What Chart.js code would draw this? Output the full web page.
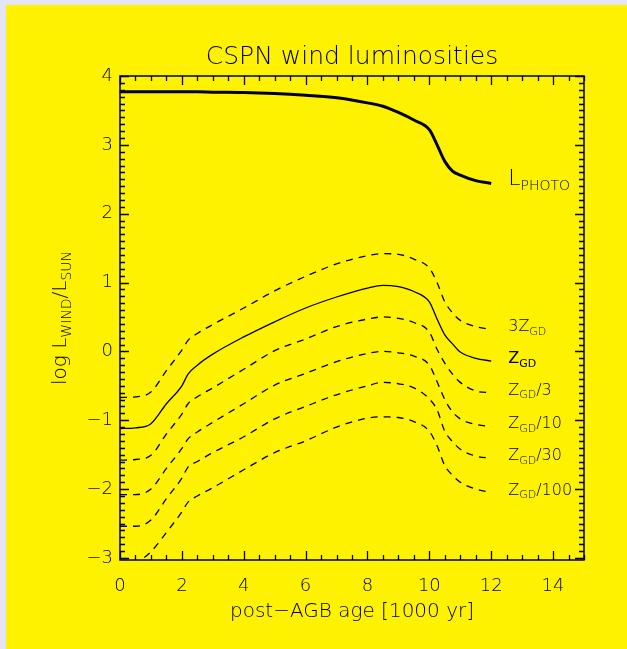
<!DOCTYPE html>
<html lang="en">
<head>
<meta charset="UTF-8">
<title>CSPN wind luminosities</title>
<script src="https://cdn.jsdelivr.net/npm/chart.js"></script>
<style>
  html, body { margin: 0; padding: 0; background: #e4e4f6; }
  canvas { display: block; }
</style>
</head>
<body>
<canvas id="cspn" width="627" height="649"></canvas>
<script>
// post-AGB age in units of 1000 yr
const ages = [0, 0.5, 1, 1.5, 2, 2.2, 2.5, 3, 4, 5, 6, 7, 8, 8.5, 9, 9.5, 10, 10.25, 10.5, 10.75, 11, 11.5, 12];

// log L / Lsun
const lPhoto    = [3.77, 3.77, 3.77, 3.77, 3.77, 3.77, 3.77, 3.765, 3.76, 3.745, 3.72, 3.685, 3.61, 3.56, 3.47, 3.36, 3.22, 3.0, 2.76, 2.62, 2.56, 2.48, 2.44];
const zgd3x     = [-0.67, -0.66, -0.59, -0.28, 0.02, 0.16, 0.26, 0.39, 0.63, 0.88, 1.09, 1.27, 1.39, 1.42, 1.41, 1.34, 1.21, 1.0, 0.72, 0.56, 0.45, 0.36, 0.32];
const zgd       = [-1.12, -1.11, -1.05, -0.76, -0.5, -0.33, -0.2, -0.04, 0.21, 0.43, 0.63, 0.79, 0.92, 0.96, 0.94, 0.87, 0.72, 0.47, 0.24, 0.11, -0.01, -0.10, -0.14];
const zgdDiv3   = [-1.58, -1.57, -1.51, -1.2, -0.91, -0.76, -0.66, -0.53, -0.26, 0.01, 0.18, 0.36, 0.47, 0.5, 0.48, 0.42, 0.28, 0.03, -0.17, -0.33, -0.45, -0.575, -0.6];
const zgdDiv10  = [-2.08, -2.08, -2.0, -1.7, -1.41, -1.27, -1.17, -1.03, -0.76, -0.49, -0.32, -0.15, -0.03, 0.0, -0.02, -0.07, -0.2, -0.44, -0.7, -0.88, -0.98, -1.06, -1.09];
const zgdDiv30  = [-2.54, -2.54, -2.45, -2.14, -1.84, -1.68, -1.6, -1.47, -1.24, -0.98, -0.8, -0.63, -0.5, -0.45, -0.47, -0.53, -0.69, -0.85, -1.16, -1.31, -1.42, -1.52, -1.55];
const zgdDiv100 = [-3.1, -3.07, -2.91, -2.63, -2.33, -2.19, -2.1, -1.98, -1.72, -1.47, -1.3, -1.1, -0.97, -0.95, -0.96, -1.02, -1.16, -1.37, -1.66, -1.8, -1.9, -2.0, -2.05];

// curve labels: [main text, subscript, text after subscript]
const curveLabels = [
  ['L', 'PHOTO', ''],
  ['3Z', 'GD', ''],
  ['Z', 'GD', ''],
  ['Z', 'GD', '/3'],
  ['Z', 'GD', '/10'],
  ['Z', 'GD', '/30'],
  ['Z', 'GD', '/100']
];

const xTicks = [0, 2, 4, 6, 8, 10, 12, 14];
const yTicks = [-3, -2, -1, 0, 1, 2, 3, 4];

const FONT = "'DejaVu Sans', sans-serif";
const THIN = '200 ';
const toPts = (ys) => ys.map((y, i) => ({ x: ages[i], y: y }));

function line(label, ys, width, dashed) {
  return {
    label: label,
    data: toPts(ys),
    borderColor: '#000',
    borderWidth: width,
    borderDash: dashed ? [7, 6] : [],
    pointRadius: 0,
    cubicInterpolationMode: 'monotone',
    fill: false
  };
}

// draws text with a lowered, smaller subscript; returns end x
function subText(ctx, x, y, main, sub, rest, size, subSize, weight) {
  ctx.font = weight + size + 'px ' + FONT;
  ctx.fillText(main, x, y);
  x += ctx.measureText(main).width;
  ctx.font = weight + subSize + 'px ' + FONT;
  ctx.fillText(sub, x, y + size * 0.22);
  x += ctx.measureText(sub).width;
  if (rest) {
    ctx.font = weight + size + 'px ' + FONT;
    ctx.fillText(rest, x, y);
    x += ctx.measureText(rest).width;
  }
  return x;
}

const idlFrame = {
  id: 'idlFrame',
  beforeDraw(chart) {
    const ctx = chart.ctx;
    ctx.save();
    ctx.fillStyle = '#e4e4f6';
    ctx.fillRect(0, 0, chart.width, chart.height);
    ctx.fillStyle = '#fff200';
    ctx.fillRect(6, 5, chart.width - 6, chart.height - 5);
    ctx.restore();
  },
  afterDraw(chart) {
    const ctx = chart.ctx;
    const a = chart.chartArea;
    const xs = chart.scales.x, ys = chart.scales.y;
    ctx.save();
    ctx.strokeStyle = '#000';
    ctx.fillStyle = '#000';
    ctx.lineWidth = 1.5;
    ctx.strokeRect(a.left, a.top, a.right - a.left, a.bottom - a.top);

    // inward ticks on all four sides
    ctx.lineWidth = 1.3;
    ctx.beginPath();
    for (let v = 0; v <= 15.001; v += 0.5) {
      const px = Math.round(xs.getPixelForValue(v)) + 0.5;
      const len = (Math.abs(v % 2) < 0.01) ? 9 : 5;
      ctx.moveTo(px, a.bottom); ctx.lineTo(px, a.bottom - len);
      ctx.moveTo(px, a.top); ctx.lineTo(px, a.top + len);
    }
    for (let k = -30; k <= 40; k++) {
      const py = Math.round(ys.getPixelForValue(k / 10)) + 0.5;
      if (py > a.bottom) continue;
      const len = (k % 10 === 0) ? 9 : 5;
      ctx.moveTo(a.left, py); ctx.lineTo(a.left + len, py);
      ctx.moveTo(a.right, py); ctx.lineTo(a.right - len, py);
    }
    ctx.stroke();

    // tick labels
    ctx.font = THIN + '18px ' + FONT;
    ctx.textAlign = 'center';
    ctx.textBaseline = 'alphabetic';
    xTicks.forEach(v => ctx.fillText(String(v), xs.getPixelForValue(v), a.bottom + 31));
    ctx.textAlign = 'right';
    ctx.textBaseline = 'middle';
    yTicks.forEach(v => ctx.fillText(String(v).replace('-', '\u2212'), a.left - 7, ys.getPixelForValue(v)));

    // titles
    ctx.textAlign = 'center';
    ctx.textBaseline = 'alphabetic';
    ctx.font = THIN + '25px ' + FONT;
    ctx.fillText('CSPN wind luminosities', (a.left + a.right) / 2, a.top - 12);
    ctx.font = THIN + '20px ' + FONT;
    ctx.fillText('post\u2212AGB age [1000 yr]', (a.left + a.right) / 2, a.bottom + 57);

    // y title, rotated, with subscripts
    ctx.save();
    ctx.translate(a.left - 54, (a.top + a.bottom) / 2);
    ctx.rotate(-Math.PI / 2);
    ctx.textAlign = 'left';
    const parts = [['log L', 20, 0], ['WIND', 14, 5], ['/L', 20, 0], ['SUN', 14, 5]];
    let total = 0;
    parts.forEach(p => { ctx.font = THIN + p[1] + 'px ' + FONT; total += ctx.measureText(p[0]).width; });
    let tx = -total / 2;
    parts.forEach(p => {
      ctx.font = THIN + p[1] + 'px ' + FONT;
      ctx.fillText(p[0], tx, p[2]);
      tx += ctx.measureText(p[0]).width;
    });
    ctx.restore();

    // curve labels at the end of each line
    ctx.textAlign = 'left';
    chart.data.datasets.forEach((ds, i) => {
      const last = ds.data[ds.data.length - 1];
      const lx = xs.getPixelForValue(last.x) + 17;
      const ly = ys.getPixelForValue(last.y) + 2;
      const lab = curveLabels[i];
      if (i === 0) subText(ctx, lx, ly, lab[0], lab[1], lab[2], 22, 14, THIN);
      else subText(ctx, lx, ly, lab[0], lab[1], lab[2], 16, 11, i === 2 ? '' : THIN);
    });
    ctx.restore();
  }
};

const ctx = document.getElementById('cspn');
new Chart(ctx, {
  type: 'line',
  data: {
    datasets: [
      line('L_PHOTO', lPhoto, 3, false),
      line('3Z_GD', zgd3x, 1.3, true),
      line('Z_GD', zgd, 1.3, false),
      line('Z_GD/3', zgdDiv3, 1.3, true),
      line('Z_GD/10', zgdDiv10, 1.3, true),
      line('Z_GD/30', zgdDiv30, 1.3, true),
      line('Z_GD/100', zgdDiv100, 1.3, true)
    ]
  },
  options: {
    responsive: false,
    animation: false,
    layout: { padding: { left: 120, right: 43, top: 76, bottom: 89 } },
    plugins: { legend: { display: false }, tooltip: { enabled: false } },
    scales: {
      x: { type: 'linear', min: 0, max: 15, display: false },
      y: { type: 'linear', min: -3.03, max: 4, display: false }
    }
  },
  plugins: [idlFrame]
});
</script>
</body>
</html>
